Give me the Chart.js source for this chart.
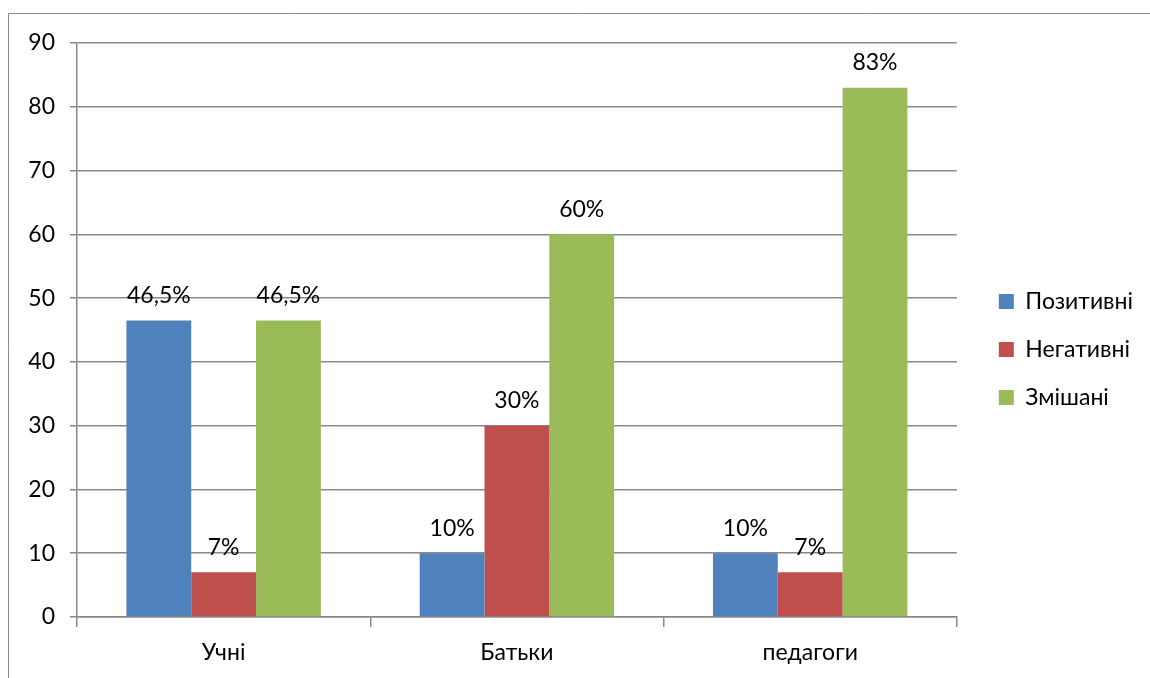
<!DOCTYPE html>
<html>
<head>
<meta charset="utf-8">
<script src="https://cdn.jsdelivr.net/npm/chart.js@4/dist/chart.umd.min.js"></script>
<style>
  html, body { margin: 0; padding: 0; background: #fff; }
  #wrap { width: 1150px; height: 678px; position: relative; }
</style>
</head>
<body>
<div id="wrap"><canvas id="myChart" width="1150" height="678"></canvas></div>
<script>
// дані діаграми
var categories = ['Учні', 'Батьки', 'педагоги']
var seriesNames = ['Позитивні', 'Негативні', 'Змішані']
var positive = [46.5, 10, 10]
var negative = [7, 30, 7]
var mixed = [46.5, 60, 83]
var yTicks = [0, 10, 20, 30, 40, 50, 60, 70, 80, 90]

var colors = ['#4F81BD', '#C0504D', '#9BBB59']
var gridColor = '#888888'
var fontFamily = 'Lato, "Open Sans", sans-serif'
var fontSize = 23

function percentLabel(v) {
    return String(v).replace('.', ',') + '%'
}

// рамка навколо області діаграми
var framePlugin = {
    id: 'frame',
    beforeDraw(chart) {
        var ctx = chart.ctx
        ctx.save()
        ctx.fillStyle = '#fff'
        ctx.fillRect(0, 0, chart.width, chart.height)
        ctx.strokeStyle = '#8c8c8c'
        ctx.lineWidth = 1
        ctx.beginPath()
        ctx.moveTo(8.5, chart.height)
        ctx.lineTo(8.5, 13.5)
        ctx.lineTo(chart.width, 13.5)
        ctx.stroke()
        ctx.restore()
    }
}

// зсув легенди трохи правіше і вище, як в оригіналі
var legendShift = {
    id: 'legendShift',
    afterLayout(chart) {
        var lg = chart.legend
        lg.left += 17
        lg.right += 17
        lg.top -= 11
        lg.bottom -= 11
    }
}

// підписи значень над стовпчиками
var valueLabels = {
    id: 'valueLabels',
    afterDatasetsDraw(chart) {
        var ctx = chart.ctx
        ctx.save()
        ctx.font = fontSize + 'px ' + fontFamily
        ctx.fillStyle = '#000'
        ctx.textAlign = 'center'
        ctx.textBaseline = 'middle'
        chart.data.datasets.forEach((ds, i) => {
            chart.getDatasetMeta(i).data.forEach((bar, j) => {
                ctx.fillText(percentLabel(ds.data[j]), bar.x, bar.y - 25)
            })
        })
        ctx.restore()
    }
}

var ctx = document.getElementById('myChart').getContext('2d')
var myChart = new Chart(ctx, {
    type: 'bar',
    data: {
        labels: categories,
        datasets: [
            { label: seriesNames[0], data: positive, backgroundColor: colors[0] },
            { label: seriesNames[1], data: negative, backgroundColor: colors[1] },
            { label: seriesNames[2], data: mixed, backgroundColor: colors[2] }
        ]
    },
    options: {
        responsive: false,
        animation: false,
        devicePixelRatio: 1,
        datasets: {
            bar: { categoryPercentage: 0.663, barPercentage: 1 }
        },
        layout: { padding: { top: 43, left: 0, right: 24, bottom: 0 } },
        plugins: {
            tooltip: { enabled: false },
            legend: {
                position: 'right',
                align: 'center',
                labels: {
                    boxWidth: 15,
                    boxHeight: 15,
                    padding: 25,
                    color: '#000',
                    font: { family: fontFamily, size: fontSize }
                }
            }
        },
        scales: {
            x: {
                afterFit(scale) { scale.height = 61 },
                grid: {
                    drawOnChartArea: false,
                    drawTicks: true,
                    tickLength: 10,
                    color: gridColor,
                    lineWidth: 1.5
                },
                border: { color: gridColor, width: 1.5 },
                ticks: { color: '#000', padding: 12, font: { family: fontFamily, size: fontSize } }
            },
            y: {
                min: 0,
                max: 90,
                afterFit(scale) { scale.width = 77 },
                afterBuildTicks(scale) { scale.ticks = yTicks.map(v => ({ value: v })) },
                grid: { color: gridColor, lineWidth: 1.5, tickLength: 7 },
                border: { color: gridColor, width: 1.5 },
                ticks: { color: '#000', padding: 15, font: { family: fontFamily, size: fontSize } }
            }
        }
    },
    plugins: [framePlugin, legendShift, valueLabels]
})
</script>
</body>
</html>
